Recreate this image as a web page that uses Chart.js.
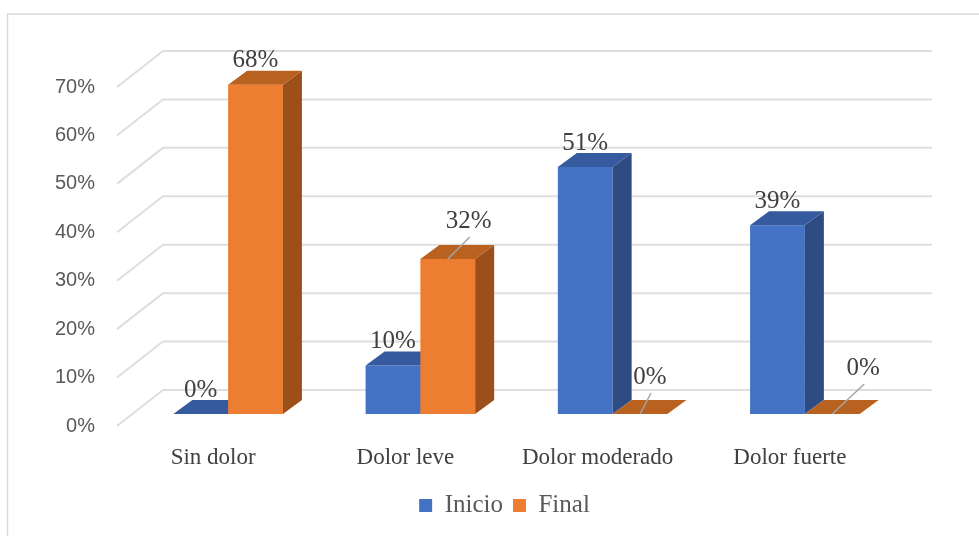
<!DOCTYPE html>
<html>
<head>
<meta charset="utf-8">
<script src="https://cdn.jsdelivr.net/npm/chart.js@4.4.1/dist/chart.umd.min.js"></script>
<style>
  html, body { margin: 0; padding: 0; background: #fff; }
</style>
</head>
<body>
<canvas id="dolorChart" width="979" height="536"></canvas>
<script>
const categorias = ['Sin dolor', 'Dolor leve', 'Dolor moderado', 'Dolor fuerte'];
const inicio = [0, 0.10, 0.51, 0.39];
const final = [0.68, 0.32, 0, 0];
const ticksY = [0, 0.1, 0.2, 0.3, 0.4, 0.5, 0.6, 0.7];

// fake 3D: back wall depth, bar position inside the floor, bar depth
const PARED = { dx: 46, dy: -36 };
const DESPL = { dx: 15, dy: -12 };
const FONDO = { dx: 19, dy: -14 };

const caras = [
  { frente: '#4472C4', lado: '#2E4B82', techo: '#355A9E' },
  { frente: '#ED7D31', lado: '#9C4E1B', techo: '#B9611F' }
];

// labels that Excel moved off the bar, with a leader line
const empujes = { '1-1': [21, -14], '1-2': [10, -13], '1-3': [31, -22] };

const serif = "'Liberation Serif', 'Times New Roman', serif";
const sans = "'Liberation Sans', Arial, sans-serif";

const pct = v => Math.round(v * 100) + '%';

function caja(ctx, el, c) {
  const { x, y, base, width } = el.getProps(['x', 'y', 'base', 'width'], true);
  const l = x - width / 2, r = x + width / 2;
  ctx.fillStyle = c.lado;
  ctx.beginPath();
  ctx.moveTo(r, y);
  ctx.lineTo(r + FONDO.dx, y + FONDO.dy);
  ctx.lineTo(r + FONDO.dx, base + FONDO.dy);
  ctx.lineTo(r, base);
  ctx.closePath();
  ctx.fill();
  ctx.fillStyle = c.techo;
  ctx.beginPath();
  ctx.moveTo(l, y);
  ctx.lineTo(l + FONDO.dx, y + FONDO.dy);
  ctx.lineTo(r + FONDO.dx, y + FONDO.dy);
  ctx.lineTo(r, y);
  ctx.closePath();
  ctx.fill();
}

const cubos = {
  id: 'cubos',
  beforeDraw(chart) {
    const ctx = chart.ctx;
    ctx.save();
    ctx.strokeStyle = '#D9D9D9';
    ctx.lineWidth = 1.5;
    ctx.strokeRect(7.5, 14, 1000, 600);
    ctx.restore();
  },
  beforeDatasetsDraw(chart) {
    const { ctx, chartArea } = chart;
    const y = chart.scales.y;
    ctx.save();
    ctx.strokeStyle = '#DEDEDE';
    ctx.lineWidth = 2;
    ticksY.forEach(v => {
      const py = y.getPixelForValue(v);
      ctx.beginPath();
      ctx.moveTo(chartArea.left, py);
      ctx.lineTo(chartArea.left + PARED.dx, py + PARED.dy);
      ctx.lineTo(chartArea.right + PARED.dx, py + PARED.dy);
      ctx.stroke();
    });
    ctx.restore();

    // Inicio first, then Final, so each front face hides the box to its left
    chart.data.datasets.forEach((ds, di) => {
      const meta = chart.getDatasetMeta(di);
      ctx.save();
      ctx.translate(DESPL.dx, DESPL.dy);
      meta.controller.draw();
      meta.data.forEach(el => caja(ctx, el, caras[di]));
      ctx.restore();
    });
    return false;
  },
  afterDraw(chart) {
    const ctx = chart.ctx;
    ctx.save();
    ctx.font = '25px ' + serif;
    ctx.fillStyle = '#404040';
    ctx.textAlign = 'center';
    ctx.textBaseline = 'middle';
    chart.data.datasets.forEach((ds, di) => {
      chart.getDatasetMeta(di).data.forEach((el, i) => {
        const bx = el.x + DESPL.dx;
        const by = el.y + DESPL.dy;
        const e = empujes[di + '-' + i] || [0, 0];
        const tx = bx + e[0], ty = by - 24 + e[1];
        if (e[0] || e[1]) {
          ctx.strokeStyle = '#A6A6A6';
          ctx.lineWidth = 1.5;
          ctx.beginPath();
          ctx.moveTo(tx + 1, ty + 16);
          ctx.lineTo(bx, by);
          ctx.stroke();
        }
        ctx.fillText(pct(ds.data[i]), tx, ty);
      });
    });
    ctx.restore();
  }
};

new Chart(document.getElementById('dolorChart'), {
  type: 'bar',
  data: {
    labels: categorias,
    datasets: [
      { label: 'Inicio', data: inicio, backgroundColor: caras[0].frente, borderWidth: 0 },
      { label: 'Final', data: final, backgroundColor: caras[1].frente, borderWidth: 0 }
    ]
  },
  options: {
    responsive: false,
    animation: false,
    layout: { padding: { left: 30, top: 87, right: 0, bottom: 8 } },
    categoryPercentage: 0.57,
    barPercentage: 1,
    scales: {
      x: {
        grid: { display: false, drawTicks: false },
        border: { display: false },
        ticks: { font: { family: serif, size: 23 }, color: '#404040', padding: 18 },
        afterFit(scale) { scale.height = 57; }
      },
      y: {
        min: 0,
        max: 0.7,
        grid: { display: false, drawTicks: false },
        border: { display: false },
        afterBuildTicks(scale) { scale.ticks = ticksY.map(v => ({ value: v })); },
        afterFit(scale) { scale.width = 87; },
        ticks: {
          font: { family: sans, size: 20 },
          color: '#595959',
          padding: 22,
          callback: v => pct(v)
        }
      },
      // empty axis that keeps room on the right for the back wall
      margen: {
        position: 'right',
        grid: { display: false, drawTicks: false },
        border: { display: false },
        ticks: { display: false },
        afterFit(scale) { scale.width = 93; }
      }
    },
    plugins: {
      tooltip: { enabled: false },
      legend: {
        position: 'bottom',
        labels: {
          boxWidth: 13,
          boxHeight: 13,
          padding: 10,
          color: '#595959',
          font: { family: serif, size: 25 }
        }
      }
    }
  },
  plugins: [cubos]
});
</script>
</body>
</html>
